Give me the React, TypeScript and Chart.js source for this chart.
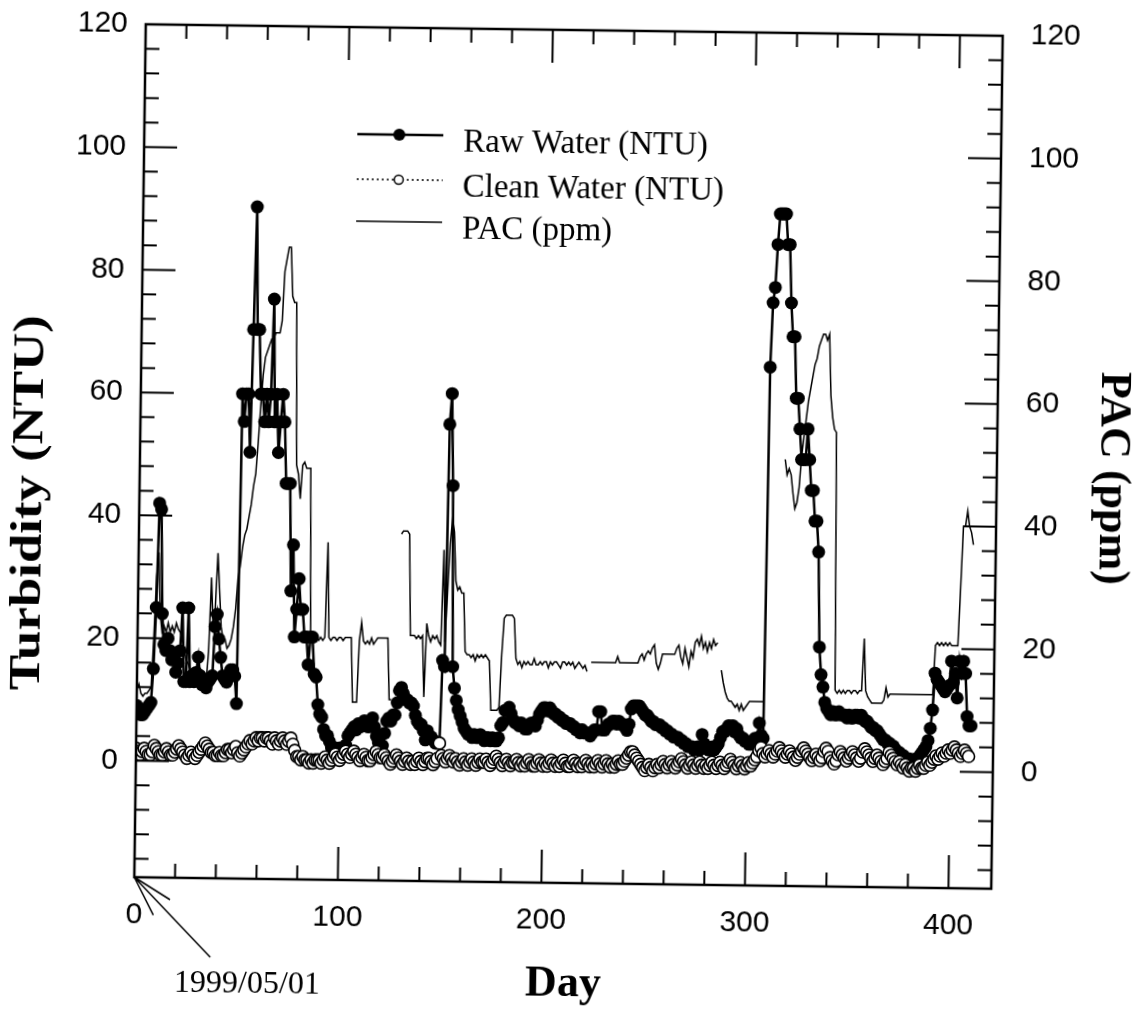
import React, { useEffect, useRef } from 'react';
import { Chart, registerables } from 'chart.js';

Chart.register(...registerables);

// Day index = position in the array (day 0 = 1999/05/01)
const rawWater: number[] = [
  9, 8, 7.5, 7.5, 8, 8.5, 9, 9.5, 15, 25,
  42, 41, 24, 19, 18, 20, 18, 16.5, 17, 14.5,
  16, 18, 25, 13, 13, 25, 13, 14, 13, 14.5,
  17, 14, 12.5, 12.5, 12, 13, 13.5, 14, 22, 24,
  20, 17, 14, 13.5, 13, 14, 15, 15, 14, 9.5,
  60, 55.5, 60, 60, 50.5, 70.5, 90.5, 70.5, 70.5, 60,
  60, 55.5, 60, 55.5, 60, 75.5, 55.5, 60, 50.5, 55.5,
  60, 55.5, 45.5, 45.5, 45.5, 28, 35.5, 20.5, 25, 30,
  25, 25, 20.5, 20.5, 16, 20.5, 20.5, 14.5, 14, 9.5,
  8, 7.5, 5.5, 4.5, 4.5, 3.5, 2.5, 2.5, 2.5, 2,
  2.5, 2, 2.5, 3, 4.5, 5, 5.5, 6, 5.5, 6.5,
  6, 6.5, 7, 6.5, 6, 6.5, 7.5, 6, 4.5, 3.5,
  2.5, 3, 5, 7, 7.5, 7, 8, 8, 10, 12,
  12.5, 11.5, 10.5, 10.5, 10, 10, 9.5, 8, 7, 6.5,
  6.5, 5.5, 4, 5.5, 4.5, 4.5, 4, 3.5, 3.5, 3.5,
  17, 16, 55.5, 60.5, 45.5, 16, 12.5, 10.5, 9, 8,
  7, 6, 5.5, 5, 5, 4.5, 5, 4.5, 4.5, 5,
  4.5, 4, 4.5, 4.5, 4, 4.5, 4, 4, 4.5, 6.5,
  7, 9, 9, 9.5, 8.5, 7.5, 7, 7, 6.5, 7,
  6.5, 6, 6, 6.5, 7, 7, 6.5, 7.5, 8.5, 9,
  9.5, 9.5, 9, 9.5, 9, 8.5, 8.5, 8, 8, 7.5,
  7.5, 7, 7, 7, 6.5, 6.5, 6, 6, 5.5, 6,
  5.5, 5.5, 5.5, 5, 5.5, 6, 6, 9, 9, 6,
  6, 6.5, 7, 7, 7.5, 7.5, 7, 7.5, 7, 7,
  6.5, 6, 7, 9.5, 10, 10, 10, 10, 9.5, 9,
  8.5, 8.5, 8, 7.5, 7.5, 7, 7, 7, 6.5, 6.5,
  6, 6, 5.5, 5.5, 5, 5, 5, 4.5, 4.5, 4,
  4, 3.5, 3.5, 3.5, 3, 3, 3.5, 3, 5.5, 4,
  3.5, 3, 3, 3.5, 3, 3.5, 4, 5, 6, 6,
  6.5, 7, 6.5, 7, 6, 6.5, 5.5, 5, 5, 4.5,
  4.5, 4, 4, 4.5, 5, 5, 7.5, 5.5, 5, 65.5,
  76, 78.5, 85.5, 90.5, 90.5, 90.5, 90.5, 85.5, 85.5, 76,
  70.5, 70.5, 60.5, 60.5, 55.5, 50.5, 50.5, 50.5, 55.5, 50.5,
  45.5, 45.5, 40.5, 40.5, 35.5, 20, 15.5, 13.5, 11, 10,
  9.5, 9, 9.5, 9, 9, 9.5, 9, 9, 9, 8.5,
  9, 8.5, 8.5, 9, 9, 8.5, 9, 8.5, 8, 8,
  7.5, 7, 7, 6.5, 6.5, 6, 5.5, 5, 5, 4.5,
  4.5, 4, 4, 3.5, 3, 3, 2.5, 2.5, 2, 2,
  2, 1.5, 1.5, 2, 2, 2.5, 3, 3.5, 4, 5,
  7, 10, 16, 15, 14.5, 14, 13.5, 13, 13.5, 14,
  18, 14.5, 16, 12, 18, 16, 18, 16, 9, 7.5,
  7.5,
];

const cleanWater: number[] = [
  2, 1.5, 1, 1.5, 2, 1.5, 1, 1, 1.5, 2.5,
  2, 1.5, 1, 1, 1.5, 2, 1.5, 1, 1, 1.5,
  2, 2.5, 2, 1.5, 1, 0.5, 1, 1.5, 1, 0.5,
  1, 1.5, 2, 2.5, 3, 2.5, 2, 1.5, 1.5, 1,
  1, 1.5, 1, 1, 1.5, 2, 2, 1.5, 2, 2.5,
  1.5, 1, 1.5, 2, 2.5, 3, 3.5, 3, 3.5, 4,
  3.5, 4, 4, 3.5, 4, 4, 3.5, 3, 4, 3.5,
  3, 3.5, 4, 3.5, 3, 3.5, 4, 3, 2, 1,
  1, 0.5, 1, 0.5, 0.5, 0, 0.5, 0, 0.5, 0.5,
  0.5, 0, 0.5, 1, 0.5, 0, 0.5, 1, 1.5, 1,
  0.5, 1, 1.5, 2, 1.5, 1, 1.5, 2, 1.5, 1,
  0.5, 1, 1.5, 1, 0.5, 0.5, 1, 1.5, 2, 1.5,
  1, 1, 1.5, 1, 0.5, 0, 0.5, 1, 1.5, 1,
  0.5, 0, 0.5, 1, 0.5, 0, 0.5, 0, 0.5, 1,
  0.5, 0, 0.5, 1, 1, 0.5, 0, 0.5, 1, 3.5,
  1.5, 1, 0.5, 1, 1.5, 1, 0.5, 1, 0.5, 0,
  0.5, 1, 0.5, 0, 0.5, 1, 0.5, 0, 0.5, 1,
  0.5, 0.5, 1, 0.5, 0, 0.5, 1, 1.5, 1, 0.5,
  0, 0.5, 1, 0.5, 0, 0.5, 0.5, 1, 0.5, 0,
  0.5, 0, 0.5, 1, 0.5, 0, 0, 0.5, 1, 0.5,
  0, 0.5, 0, 0.5, 1, 0.5, 0, 0.5, 0, 0.5,
  1, 0.5, 0, 0, 0.5, 1, 0.5, 0, 0.5, 0,
  0.5, 1, 0.5, 0, 0.5, 0, 0.5, 1, 0.5, 0,
  0.5, 1, 0.5, 0, 0.5, 0, 0.5, 1, 0.5, 0.5,
  1, 1.5, 2, 2.5, 2.5, 2, 1.5, 1, 0.5, 0,
  -0.5, 0, 0.5, 0, -0.5, 0, 0.5, 0, 0.5, 1,
  0.5, 0, 0.5, 1, 0.5, 0, 0.5, 1, 1.5, 1,
  0.5, 0, 0.5, 1, 0.5, 0, 0.5, 1, 0.5, 0,
  0.5, 0, 0.5, 1, 0.5, 0, 0.5, 1, 0.5, 0,
  0.5, 1, 1.5, 1, 0.5, 0, 0.5, 1, 0.5, 0,
  0.5, 1, 0.5, 1, 1.5, 2, 3, 3.5, 2.5, 2,
  2.5, 3, 2.5, 2, 2.5, 3, 3.5, 3, 2.5, 2,
  2.5, 3, 2.5, 2, 1.5, 2, 2.5, 3, 3.5, 3,
  2.5, 2, 1.5, 2, 2.5, 2, 1.5, 2, 3, 3.5,
  3, 2, 1.5, 1, 1.5, 2.5, 3, 2.5, 2, 1.5,
  2, 2.5, 3, 2.5, 2, 1.5, 2, 3, 3.5, 3,
  2.5, 2, 1.5, 2, 2.5, 2, 1.5, 1, 1.5, 2,
  3, 2.5, 2, 1.5, 1, 1.5, 1, 0.5, 1, 0.5,
  0, 0.5, 0.5, 0, 0.5, 1, 0.5, 0.5, 1, 1.5,
  1, 1.5, 2, 2.5, 2, 2.5, 3, 2.5, 3, 3.5,
  3, 3.5, 4, 3.5, 3, 2.5, 3, 3.5, 3, 2.5,
];

const pacPpm: (number | null)[] = [
  11.5, 12.5, 11, 10.5, 11, 11, 11.5, 12, 20, 30,
  34, 24, 21, 22, 21, 22.5, 21, 22, 21, 22.5,
  21.5, 21, 20, 18, 16.5, 16, 15, 14, 13.5, 13,
  12.5, 12.5, 12, 12, 13, 18, 30, 22, 25, 34,
  28, 22, 20, 20, 18.5, 19, 20, 22, 25, 30,
  32, 35, 37, 38, 40, 42, 45, 47, 52, 58,
  63, 66, 67, 68, 69, 69, 70, 70, 70, 72,
  80, 82, 84, 84, 76, 75, 75, 48.5, 47, 43,
  48.5, 49, 48, 48, 48, 20.5, 20.5, 20, 20.5, 20,
  20.5, 20, 20.5, 36, 20.5, 20, 20.5, 20.5, 20, 20.5,
  20.5, 20, 20.5, 20.5, 20.5, 20.5, 10, 10, 10, 20,
  23, 20, 19.5, 20, 19.5, 20.5, 19.5, 20, 20.5, 20.5,
  20.5, 20.5, 20.5, 20.5, 10.5, 10.5, null, null, null, 37.5,
  38, 38, 38, 37.5, 21, 21, 21, 20.5, 21, 20.5,
  21, 11, 23, 21, 20, 21, 20.5, 21, 20, 19.5,
  35, 20, 28, 36, 40, 38, 30, 28.5, 29, 28,
  28, 18.5, 18, 18, 17.5, 18, 17, 18, 17.5, 18,
  17.5, 18, 17.5, 17, 9, 9, 9, 9, 9.5, 18,
  24, 24.5, 24.5, 24.5, 24.5, 24, 17.5, 16.5, 17, 16,
  17, 16.5, 17, 16.5, 16.5, 17.5, 16.5, 16.5, 17, 16.5,
  17, 17, 16, 17, 16.5, 17, 17, 16.5, 16, 17,
  17, 16.5, 17, 16.5, 17, 16, 16.5, 17, 16.5, 16,
  16.5, 15.5, null, 17, 17, 17, 17, 17, 17, 17,
  17, 17, 17, 17, 17, 17, 18, 17, 17, 17,
  17, 17, 17, 17, 17, 17, 17, 18, 18.5, 17.5,
  18.5, 19, 18.5, 19.5, 20, 17, 16, 17, 18.5, 18.5,
  18.5, 18.5, 18.5, 18.5, 18.5, 19.5, 20, 18, 17, 19.5,
  18, 16.5, 19, 18, 20.5, 21, 20, 21.5, 19.5, 20.5,
  19, 20.5, 19.5, 21, 20, 20.5, null, 16, 14, 12.5,
  11.5, 11, 11, 10.5, 10, 10.5, 9.5, 10.5, 9.5, 10,
  10.5, 11, 11, 11, 11, 11, 11, 11, 11, null,
  null, null, null, null, null, null, null, 50.5, 48, 49,
  48, 45, 42.5, 43.5, 46, 51, 54, 57, 60, 62,
  64, 66, 67, 69, 70, 71, 71, 70, 71, 61,
  57.5, 55.5, 55, 13, 12.5, 13, 12.5, 13, 12.5, 13,
  13, 12.5, 13, 13, 12.5, 13, 13, 21.5, 13, 12,
  11.5, 11, 11, 11, 11, 11, 11, 11.5, 13.5, 12,
  12.5, 12.5, 12.5, 12.5, 12.5, 12.5, 12.5, 12.5, 12.5, 12.5,
  12.5, 12.5, 12.5, 12.5, 12.5, 12.5, 12.5, 12.5, 12.5, 12.5,
  12.5, 12.5, 20.5, 21, 20.5, 21, 20.5, 21, 20.5, 21,
  20.5, 20.5, 20.5, 20.5, 30, 40, 40, 42.5, 40, 39,
  37,
];

const xTickLabels = [0, 100, 200, 300, 400];
const yTickLabels = [0, 20, 40, 60, 80, 100, 120];
const seriesLabels = ['Raw Water (NTU)', 'Clean Water (NTU)', 'PAC (ppm)'];
const startDateLabel = '1999/05/01';

const X_MIN = 0;
const X_MAX = 421;
const Y_MIN = -19;
const Y_MAX = 120;

const toPoints = (arr: (number | null)[]) => arr.map((v, i) => ({ x: i, y: v }));

const TICK_FONT = { family: "'Liberation Sans', Arial, sans-serif", size: 30 };

function drawText(
  ctx: CanvasRenderingContext2D,
  s: string,
  x: number,
  y: number,
  font: string,
  rot = 0,
  targetWidth = 0,
) {
  ctx.save();
  ctx.translate(x, y);
  ctx.rotate(rot);
  ctx.font = font;
  ctx.textAlign = 'center';
  ctx.textBaseline = 'middle';
  ctx.fillStyle = '#000';
  if (targetWidth > 0) {
    const w = ctx.measureText(s).width;
    ctx.scale(targetWidth / w, 1);
  }
  ctx.fillText(s, 0, 0);
  ctx.restore();
}

const decorPlugin = {
  id: 'decor',
  afterDraw(chart: any) {
    const ctx: CanvasRenderingContext2D = chart.ctx;
    const a = chart.chartArea;
    const sx = chart.scales.x;
    const sy = chart.scales.y;
    ctx.save();
    ctx.strokeStyle = '#000';
    ctx.fillStyle = '#000';

    // inward ticks
    ctx.lineWidth = 2;
    ctx.beginPath();
    for (let d = 0; d <= 400; d += 20) {
      const px = sx.getPixelForValue(d);
      const len = d % 100 === 0 ? 33 : 14;
      ctx.moveTo(px, a.bottom);
      ctx.lineTo(px, a.bottom - len);
      ctx.moveTo(px, a.top);
      ctx.lineTo(px, a.top + len);
    }
    for (let v = -16; v <= Y_MAX; v += 4) {
      const py = sy.getPixelForValue(v);
      const len = v % 20 === 0 ? 33 : 14;
      ctx.moveTo(a.left, py);
      ctx.lineTo(a.left + len, py);
      ctx.moveTo(a.right, py);
      ctx.lineTo(a.right - len, py);
    }
    ctx.stroke();

    // frame
    ctx.lineWidth = 2.5;
    ctx.strokeRect(a.left, a.top, a.right - a.left, a.bottom - a.top);

    // axis titles
    const bold = "bold 44px 'Liberation Serif', 'Times New Roman', serif";
    drawText(ctx, 'Turbidity (NTU)', 31, 510, bold, -Math.PI / 2, 375);
    drawText(ctx, 'PAC (ppm)', 1112, 471, bold, Math.PI / 2);
    drawText(ctx, 'Day', 570, 985, bold);
    drawText(ctx, startDateLabel, 254, 989, "32px 'Liberation Serif', 'Times New Roman', serif");

    // arrow to origin
    const ox = sx.getPixelForValue(0);
    const oy = a.bottom;
    ctx.lineWidth = 1.5;
    ctx.beginPath();
    ctx.moveTo(ox, oy);
    ctx.lineTo(ox + 77, oy + 79);
    ctx.moveTo(ox, oy);
    ctx.lineTo(ox + 36, oy + 22);
    ctx.moveTo(ox, oy);
    ctx.lineTo(ox + 19.5, oy + 37.6);
    ctx.stroke();

    // legend
    const lx0 = 353;
    const lx1 = 439;
    const mx = 395;
    const rows = [137, 182, 224];
    const font = "33px 'Liberation Serif', 'Times New Roman', serif";
    ctx.lineWidth = 2.5;
    ctx.setLineDash([]);
    ctx.beginPath();
    ctx.moveTo(lx0, rows[0]);
    ctx.lineTo(lx1, rows[0]);
    ctx.stroke();
    ctx.beginPath();
    ctx.arc(mx, rows[0], 6, 0, Math.PI * 2);
    ctx.fill();
    ctx.lineWidth = 1.5;
    ctx.setLineDash([2, 3]);
    ctx.beginPath();
    ctx.moveTo(lx0, rows[1]);
    ctx.lineTo(lx1, rows[1]);
    ctx.stroke();
    ctx.setLineDash([]);
    ctx.beginPath();
    ctx.arc(mx, rows[1], 4.5, 0, Math.PI * 2);
    ctx.fillStyle = '#fff';
    ctx.fill();
    ctx.stroke();
    ctx.fillStyle = '#000';
    ctx.lineWidth = 1.5;
    ctx.beginPath();
    ctx.moveTo(lx0, rows[2]);
    ctx.lineTo(lx1, rows[2]);
    ctx.stroke();

    ctx.font = font;
    ctx.textAlign = 'left';
    ctx.textBaseline = 'alphabetic';
    ctx.fillText(seriesLabels[0], 459, 153);
    ctx.fillText(seriesLabels[1], 459, 198);
    ctx.fillText(seriesLabels[2], 459, 239.5);
    ctx.restore();
  },
};

export default function App() {
  const canvasRef = useRef<HTMLCanvasElement | null>(null);

  useEffect(() => {
    const canvas = canvasRef.current;
    if (!canvas) return;
    const fitVertical = (w: number) => (s: any) => {
      s.width = w;
      s.paddingTop = 0;
      s.paddingBottom = 0;
    };
    const chart = new Chart(canvas, {
      type: 'line',
      data: {
        datasets: [
          {
            label: seriesLabels[1],
            data: toPoints(cleanWater),
            yAxisID: 'y',
            borderColor: '#000',
            borderWidth: 1.2,
            borderDash: [2, 3],
            pointRadius: 6,
            pointBackgroundColor: '#fff',
            pointBorderColor: '#000',
            pointBorderWidth: 1.6,
            order: 0,
          },
          {
            label: seriesLabels[0],
            data: toPoints(rawWater),
            yAxisID: 'y',
            borderColor: '#000',
            borderWidth: 2.5,
            pointRadius: 6.5,
            pointBackgroundColor: '#000',
            pointBorderColor: '#000',
            pointBorderWidth: 0,
            order: 1,
          },
          {
            label: seriesLabels[2],
            data: toPoints(pacPpm),
            yAxisID: 'y2',
            borderColor: '#000',
            borderWidth: 1.5,
            pointRadius: 0,
            spanGaps: false,
            order: 2,
          },
        ] as any,
      },
      options: {
        animation: false,
        responsive: false,
        maintainAspectRatio: false,
        layout: { padding: { top: 30, left: 0, right: 0, bottom: 0 } },
        plugins: {
          legend: { display: false },
          tooltip: { enabled: false },
        },
        elements: { line: { tension: 0 } },
        scales: {
          x: {
            type: 'linear',
            position: 'bottom',
            min: X_MIN,
            max: X_MAX,
            grid: { display: false, drawTicks: false },
            border: { display: false },
            ticks: { color: '#000', font: TICK_FONT, padding: 20, maxRotation: 0, autoSkip: false },
            afterBuildTicks: (s: any) => {
              s.ticks = xTickLabels.map((v) => ({ value: v }));
            },
            afterFit: (s: any) => {
              s.height = 127;
              s.paddingLeft = 0;
              s.paddingRight = 0;
            },
          },
          y: {
            type: 'linear',
            position: 'left',
            min: Y_MIN,
            max: Y_MAX,
            grid: { display: false, drawTicks: false },
            border: { display: false },
            ticks: { color: '#000', font: TICK_FONT, padding: 18 },
            afterBuildTicks: (s: any) => {
              s.ticks = yTickLabels.map((v) => ({ value: v }));
            },
            afterFit: fitVertical(140),
          },
          y2: {
            type: 'linear',
            position: 'right',
            min: Y_MIN,
            max: Y_MAX,
            grid: { display: false, drawTicks: false },
            border: { display: false },
            ticks: { color: '#000', font: TICK_FONT, padding: 28 },
            afterBuildTicks: (s: any) => {
              s.ticks = yTickLabels.map((v) => ({ value: v }));
            },
            afterFit: fitVertical(148),
          },
        },
      } as any,
      plugins: [decorPlugin],
    });
    return () => chart.destroy();
  }, []);

  return (
    <div
      style={{
        position: 'absolute',
        left: 0,
        top: 0,
        width: 1145,
        height: 1010,
        background: '#fff',
        transform: 'rotate(0.77deg)',
        transformOrigin: '568px 456.5px',
      }}
    >
      <canvas ref={canvasRef} width={1145} height={1010} style={{ display: 'block', width: 1145, height: 1010 }} />
    </div>
  );
}
